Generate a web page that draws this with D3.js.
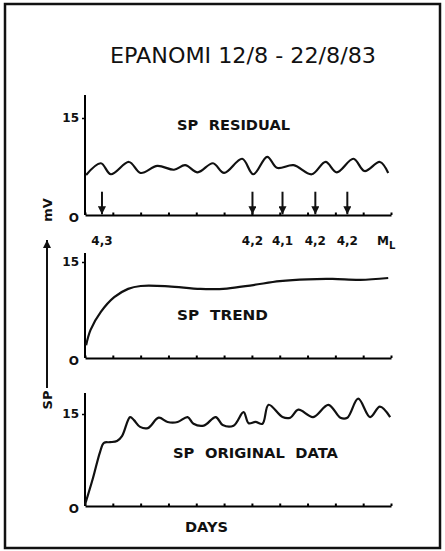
<!DOCTYPE html>
<html>
<head>
<meta charset="utf-8">
<script src="https://cdn.jsdelivr.net/npm/d3@7"></script>
<style>
  html, body { margin: 0; padding: 0; background: #fff; }
  svg { display: block; }
  text { font-family: "DejaVu Sans", sans-serif; fill: #111; }
</style>
</head>
<body>
<div id="chart"></div>
<script>
// days axis (12/8 .. 22/8/83)
const dayTicks = [0, 1, 2, 3, 4, 5, 6, 7, 8, 9, 10, 11];

// SP residual (mV)
const residualDays = [0.04, 0.57, 0.93, 1.58, 2.0, 2.6, 3.2, 3.6, 4.05, 4.6, 5.0, 5.65, 6.05, 6.55, 6.9, 7.5, 8.15, 8.65, 9.05, 9.65, 10.05, 10.6, 10.9];
const residualVals = [6.2, 8.0, 6.3, 8.2, 6.5, 7.6, 7.0, 7.7, 6.6, 8.0, 6.5, 8.7, 6.3, 9.0, 7.3, 7.7, 6.3, 8.2, 6.6, 8.7, 6.8, 8.2, 6.5];

// earthquakes
const quakeDays = [0.61, 6.02, 7.1, 8.28, 9.43];
const quakeMags = ["4,3", "4,2", "4,1", "4,2", "4,2"];

// SP trend
const trendDays = [0.04, 0.2, 0.57, 1.05, 1.55, 2.0, 3.0, 4.15, 5.1, 6.05, 7.0, 8.0, 8.9, 9.9, 10.9];
const trendVals = [2.0, 4.4, 7.2, 9.5, 10.8, 11.25, 11.2, 10.8, 10.85, 11.4, 12.0, 12.3, 12.35, 12.2, 12.5];

// SP original data
const origDays = [0.0, 0.29, 0.54, 0.68, 0.9, 1.15, 1.33, 1.62, 1.76, 1.98, 2.26, 2.65, 2.97, 3.33, 3.69, 3.9, 4.27, 4.7, 4.95, 5.34, 5.7, 5.88, 6.13, 6.38, 6.6, 7.1, 7.38, 7.67, 8.2, 8.75, 9.18, 9.43, 9.82, 10.25, 10.6, 10.97];
const origVals = [0.2, 4.6, 8.8, 10.3, 10.4, 10.6, 11.4, 14.5, 14.0, 12.9, 12.7, 14.4, 13.7, 13.7, 14.5, 13.4, 13.1, 14.5, 13.2, 13.1, 15.3, 13.5, 13.7, 13.4, 16.5, 14.5, 14.4, 15.7, 14.5, 16.5, 14.4, 14.4, 17.5, 14.5, 16.2, 14.5];

const yTicks = [0, 15];

const W = 445, H = 551;
const svg = d3.select("#chart").append("svg").attr("width", W).attr("height", H);

svg.append("rect")
    .attr("x", 5).attr("y", 4).attr("width", 435).attr("height", 544)
    .attr("fill", "none").attr("stroke", "#111").attr("stroke-width", 2.5);

svg.append("text")
    .attr("x", 110).attr("y", 63)
    .attr("font-size", 20.5)
    .attr("textLength", 266).attr("lengthAdjust", "spacingAndGlyphs")
    .text("EPANOMI 12/8 - 22/8/83");

const defs = svg.append("defs");
defs.append("marker")
    .attr("id", "head").attr("viewBox", "0 0 10 10")
    .attr("refX", 10).attr("refY", 5)
    .attr("markerWidth", 4).attr("markerHeight", 4)
    .attr("markerUnits", "strokeWidth")
    .attr("orient", "auto")
    .append("path").attr("d", "M0,0 L10,5 L0,10 Z").attr("fill", "#111");

const x = d3.scaleLinear().domain([0, 11]).range([85, 391]);

const line = (sy) => d3.line()
    .x(d => x(d[0]))
    .y(d => sy(d[1]))
    .curve(d3.curveCatmullRom.alpha(0.5));

function panel(y0, y15, top, days, vals, label, lx, ly, lw) {
    const y = d3.scaleLinear().domain([0, 15]).range([y0, y15]);
    const g = svg.append("g");

    // y axis
    g.append("g")
        .attr("transform", `translate(${x(0)},0)`)
        .call(d3.axisLeft(y).tickValues(yTicks).tickSizeInner(3).tickSizeOuter(0).tickPadding(3)
            .tickFormat(d => d === 0 ? "O" : d))
        .call(a => a.select(".domain").attr("d", `M0,${y0}V${top}`).attr("stroke-width", 2))
        .call(a => a.selectAll(".tick line").attr("stroke-width", 1.5).attr("x2", d => d === 0 ? 0 : -3))
        .call(a => a.selectAll(".tick text").attr("font-size", 12).attr("font-weight", "bold")
            .attr("font-family", "DejaVu Sans").attr("fill", "#111").attr("dy", d => d === 0 ? "0.55em" : "0.32em"));

    // x axis
    g.append("g")
        .attr("transform", `translate(0,${y0})`)
        .call(d3.axisBottom(x).tickValues(dayTicks).tickSizeInner(-2.5).tickSizeOuter(0).tickFormat(""))
        .call(a => a.select(".domain").attr("stroke-width", 2))
        .call(a => a.selectAll(".tick line").attr("stroke-width", 2));

    g.append("path")
        .datum(days.map((d, i) => [d, vals[i]]))
        .attr("d", line(y))
        .attr("fill", "none").attr("stroke", "#111").attr("stroke-width", 2.2)
        .attr("stroke-linejoin", "round");

    g.append("text")
        .attr("x", lx).attr("y", ly)
        .attr("font-size", 13.5).attr("font-weight", "bold")
        .attr("word-spacing", 5)
        .attr("textLength", lw).attr("lengthAdjust", "spacingAndGlyphs")
        .text(label);
    return y;
}

const yRes = panel(215, 118, 95, residualDays, residualVals, "SP RESIDUAL", 177, 130, 113);
panel(358, 262, 253, trendDays, trendVals, "SP TREND", 177, 320, 91);
panel(506, 414, 393, origDays, origVals, "SP ORIGINAL DATA", 173, 458, 165);

// earthquake arrows
svg.append("g").selectAll("line")
    .data(quakeDays)
    .join("line")
    .attr("x1", d => x(d)).attr("x2", d => x(d))
    .attr("y1", yRes(3.6)).attr("y2", yRes(0.1))
    .attr("stroke", "#111").attr("stroke-width", 2)
    .attr("marker-end", "url(#head)");

svg.append("g").selectAll("text")
    .data(quakeDays)
    .join("text")
    .attr("x", d => x(d)).attr("y", 245)
    .attr("text-anchor", "middle")
    .attr("font-size", 12).attr("font-weight", "bold")
    .text((d, i) => quakeMags[i]);

const ml = svg.append("text").attr("x", 377).attr("y", 245)
    .attr("font-size", 12).attr("font-weight", "bold");
ml.append("tspan").text("M");
ml.append("tspan").attr("dy", 4).attr("font-size", 10).text("L");

// left unit labels
svg.append("text")
    .attr("transform", "translate(52,210) rotate(-90)")
    .attr("text-anchor", "middle")
    .attr("font-size", 13).attr("font-weight", "bold")
    .text("mV");

svg.append("line")
    .attr("x1", 47).attr("x2", 47).attr("y1", 388).attr("y2", 240)
    .attr("stroke", "#111").attr("stroke-width", 2)
    .attr("marker-end", "url(#head)");

svg.append("text")
    .attr("transform", "translate(52,400) rotate(-90)")
    .attr("text-anchor", "middle")
    .attr("font-size", 13).attr("font-weight", "bold")
    .text("SP");

svg.append("text")
    .attr("x", 185).attr("y", 532)
    .attr("font-size", 13.5).attr("font-weight", "bold")
    .attr("textLength", 43).attr("lengthAdjust", "spacingAndGlyphs")
    .text("DAYS");
</script>
</body>
</html>
